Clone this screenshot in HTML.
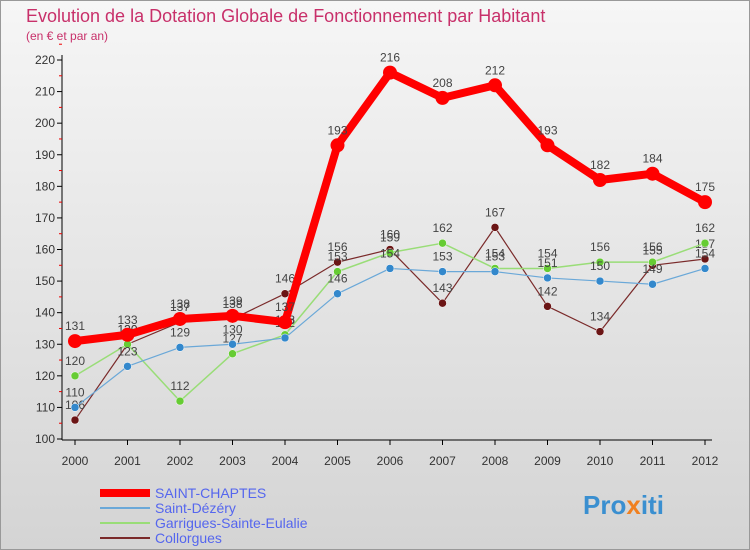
<!DOCTYPE html>
<html><head><meta charset="utf-8"><style>
body{margin:0;width:750px;height:550px;overflow:hidden;font-family:"Liberation Sans",sans-serif}
#c{position:absolute;left:0;top:0}
</style></head><body>
<svg id="c" width="750" height="550" xmlns="http://www.w3.org/2000/svg">
<defs><linearGradient id="bg" x1="0" y1="0" x2="0" y2="1"><stop offset="0" stop-color="#f6f6f6"/><stop offset="1" stop-color="#d4d4d4"/></linearGradient></defs>
<rect x="0.5" y="0.5" width="749" height="549" fill="url(#bg)" stroke="#999"/>
<text x="26" y="22" font-size="18" fill="#c8306a">Evolution de la Dotation Globale de Fonctionnement par Habitant</text>
<text x="26" y="40" font-size="12" fill="#c8306a">(en € et par an)</text>
<g id="axes"></g><g id="series"></g><g id="legend"></g>
<text x="583" y="514" font-size="26" font-weight="bold" fill="#3a8fd0">Pro<tspan fill="#f08020">x</tspan>iti</text>
</svg>
<script>
const years=[2000,2001,2002,2003,2004,2005,2006,2007,2008,2009,2010,2011,2012];
const yTicks=[100,110,120,130,140,150,160,170,180,190,200,210,220];
const saintChaptes=[131,133,138,139,137,193,216,208,212,193,182,184,175];
const saintDezery=[110,123,129,130,132,146,154,153,153,151,150,149,154];
const garrigues=[120,130,112,127,133,153,159,162,154,154,156,156,162];
const collorgues=[106,130,137,138,146,156,160,143,167,142,134,155,157];
const NS="http://www.w3.org/2000/svg";
function X(i){return 75+i*52.5;}
function Y(v){return 439-(v-100)*(379/120);}
function mk(t,a,p){const e=document.createElementNS(NS,t);for(const k in a)e.setAttribute(k,a[k]);p.appendChild(e);return e;}
const ax=document.getElementById('axes');
let l=mk('line',{x1:62,y1:55,x2:62,y2:440,stroke:'#000'},ax);


l=mk('line',{x1:62,y1:440,x2:712,y2:440,stroke:'#000'},ax);


yTicks.forEach(v=>{
 mk('line',{x1:57,y1:Y(v),x2:62,y2:Y(v),stroke:'#000'},ax);
 mk('line',{x1:59,y1:Y(v+5),x2:62,y2:Y(v+5),stroke:'#e00'},ax);
 const t=mk('text',{x:55,y:Y(v)+4,'font-size':12,'text-anchor':'end',fill:'#333'},ax);
 t.textContent=v;
 
 
});
years.forEach((y,i)=>{
 mk('line',{x1:X(i),y1:440,x2:X(i),y2:445,stroke:'#000'},ax);
 const t=mk('text',{x:X(i),y:465,'font-size':12,'text-anchor':'middle',fill:'#333'},ax);
 t.textContent=y;
 
 
});
const sg=document.getElementById('series');
const defs=[
 {d:collorgues,c:'#7a2a2a',dot:'#6b1515',w:1.2,r:4,n:'collorgues'},
 {d:garrigues,c:'#99dd77',dot:'#66cc33',w:1.5,r:4,n:'garrigues'},
 {d:saintDezery,c:'#6aa8d8',dot:'#3388cc',w:1.2,r:4,n:'saint-dezery'},
 {d:saintChaptes,c:'#ff0000',dot:'#ff0000',w:8,r:7,n:'saint-chaptes'}];
defs.forEach(s=>{
 const g=mk('g',{},sg);
 
 
 const p=mk('polyline',{points:s.d.map((v,i)=>X(i)+','+Y(v)).join(' '),fill:'none',stroke:s.c,'stroke-width':s.w,'stroke-linejoin':'round'},g);
 
 
 s.d.forEach((v,i)=>{
  const c=mk('circle',{cx:X(i),cy:Y(v),r:s.r,fill:s.dot,stroke:s.w>2?'none':'#fff','stroke-width':0.5},g);
  
  
  const t=mk('text',{x:X(i),y:Y(v)-11,'font-size':12,'text-anchor':'middle',fill:'#444'},g);
  t.textContent=v;
  
  
 });
});
const lg=document.getElementById('legend');
const leg=[['SAINT-CHAPTES','#ff0000',8],['Saint-Dézéry','#6aa8d8',2],['Garrigues-Sainte-Eulalie','#99dd77',2],['Collorgues','#7a2a2a',2]];
leg.forEach((e,i)=>{
 const y=493+i*15;
 const g=mk('g',{},lg);
 
 
 mk('line',{x1:100,y1:y,x2:150,y2:y,stroke:e[1],'stroke-width':e[2]},g);
 const t=mk('text',{x:155,y:y+5,'font-size':14,fill:'#5566ee'},g);
 t.textContent=e[0];
});
</script>
</body></html>
